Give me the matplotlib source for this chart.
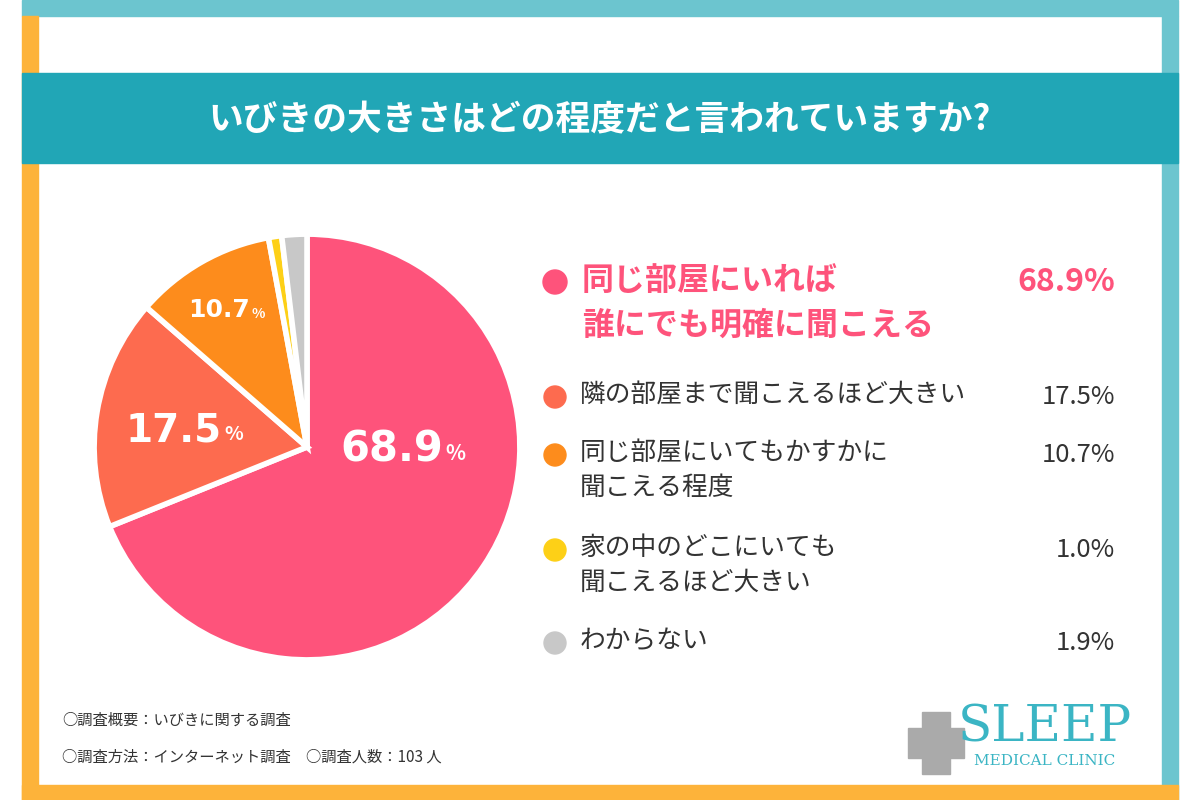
import matplotlib
matplotlib.use("Agg")
import matplotlib.pyplot as plt
from matplotlib.patches import Rectangle, Circle

plt.rcParams["font.family"] = ["Noto Sans CJK JP"]

labels = ["同じ部屋にいれば\n誰にでも明確に聞こえる", "隣の部屋まで聞こえるほど大きい",
          "同じ部屋にいてもかすかに\n聞こえる程度", "家の中のどこにいても\n聞こえるほど大きい", "わからない"]
values = [68.9, 17.5, 10.7, 1.0, 1.9]
colors = ["#fe537b", "#fd6b4f", "#fd8c1c", "#fdd017", "#c8c8c8"]
title = "いびきの大きさはどの程度だと言われていますか?"

fig = plt.figure(figsize=(12, 8), dpi=100)
ax = fig.add_axes([(307 - 215) / 1200, 1 - (447 + 215) / 800, 430 / 1200, 430 / 800])
ax.pie(values, colors=colors, startangle=90, counterclock=False,
       wedgeprops=dict(edgecolor="white", linewidth=4))
ax.set_xlim(-1.01, 1.01); ax.set_ylim(-1.01, 1.01); ax.set_aspect("equal")

bg = fig.add_axes([0, 0, 1, 1])
bg.set_zorder(5)
bg.set_xlim(0, 1200); bg.set_ylim(800, 0); bg.axis("off")
teal_l = "#6cc5cf"; orange = "#fdb33a"; teal = "#21a6b6"
bg.add_patch(Rectangle((22, 0), 1156, 16, color=teal_l))
bg.add_patch(Rectangle((22, 16), 16, 784, color=orange))
bg.add_patch(Rectangle((1162, 16), 16, 784, color=teal_l))
bg.add_patch(Rectangle((22, 785), 1156, 15, color=orange))
bg.add_patch(Rectangle((22, 73), 1156, 90, color=teal))
bg.text(600, 120, title, color="white", fontsize=25, fontweight="bold", ha="center", va="center")

def pct(x, y, v, big, small):
    bg.text(x, y, f"{v}", color="white", fontsize=big, fontweight="bold", ha="right", va="center", fontfamily="DejaVu Sans")
    bg.text(x + 2, y + 4, "%", color="white", fontsize=small, fontweight="bold", ha="left", va="center")
pct(443, 450, values[0], 30, 15)
pct(222, 430, values[1], 28, 14)
pct(250, 310, values[2], 18, 10)

ys = [282, 397, 455, 550, 643]
for i, (lab, v, c, y) in enumerate(zip(labels, values, colors, ys)):
    bg.add_patch(Circle((555, y), 12 if i == 0 else 11, color=c))
    if i == 0:
        bg.text(582, y - 17, lab, color=c, fontsize=23, fontweight="bold", va="top", linespacing=1.5)
        bg.text(1115, y, f"{v}%", color=c, fontsize=23, fontweight="bold", ha="right", va="center")
    else:
        bg.text(580, y - 15, lab, color="#333333", fontsize=18.5, va="top", linespacing=1.45)
        bg.text(1115, y, f"{v}%", color="#333333", fontsize=18.5, ha="right", va="center")

bg.text(62, 720, "○調査概要：いびきに関する調査", fontsize=11, color="#333333", va="center")
bg.text(62, 757, "○調査方法：インターネット調査　○調査人数：103 人", fontsize=11, color="#333333", va="center")

bg.add_patch(Rectangle((922, 712), 28, 62, color="#aaaaaa"))
bg.add_patch(Rectangle((908, 728), 56, 30, color="#aaaaaa"))
bg.text(1045, 728, "SLEEP", fontsize=36, color="#3bb5c4", ha="center", va="center", fontfamily="DejaVu Serif")
bg.text(1045, 761, "MEDICAL CLINIC", fontsize=11, color="#3bb5c4", ha="center", va="center", fontfamily="DejaVu Serif")

fig.savefig("out.png", dpi=100)
